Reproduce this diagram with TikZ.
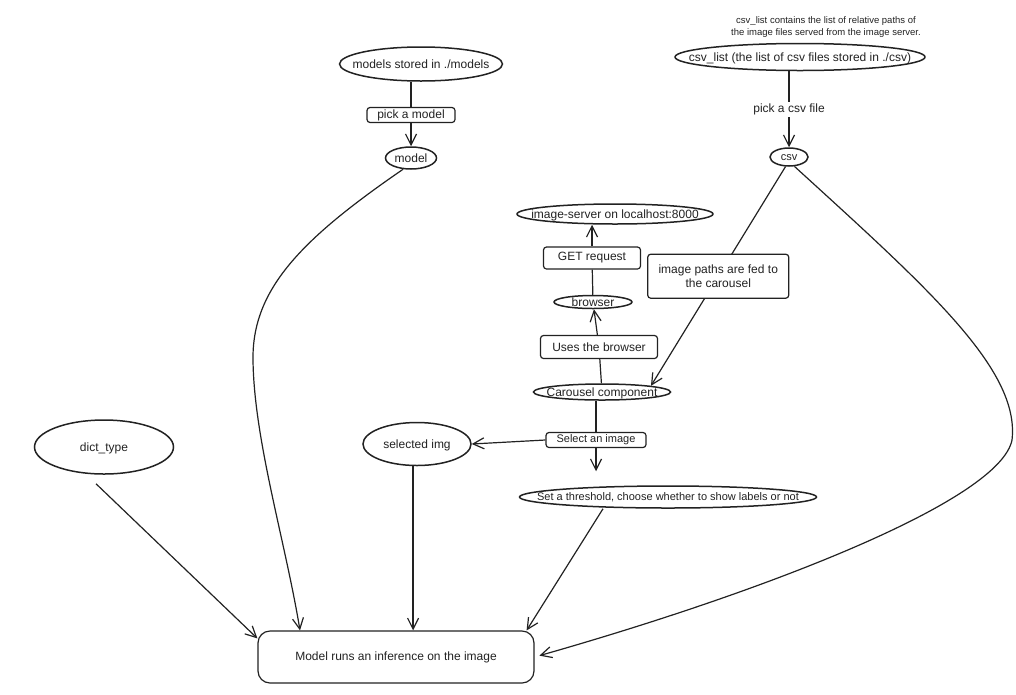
\documentclass[tikz,border=0pt]{standalone}
\usepackage{fontspec}
\setmainfont{Liberation Sans}
\usetikzlibrary{arrows.meta, shapes.geometric}
\definecolor{ink}{HTML}{222222}
% text that does not widen the ellipse
\newcommand{\tight}[1]{\raisebox{-.35em}[0pt][0pt]{\makebox[0pt]{#1}}}

\begin{document}
\begin{tikzpicture}[x=1pt, y=-1pt, color=ink, line width=1.2pt,
  font=\fontsize{12}{14}\selectfont, >={Straight Barb[length=11pt,width=11pt]},
  oval/.style={ellipse, draw, line width=1.5pt, inner sep=0pt},
  tag/.style={draw, rounded corners=3pt, line width=1.2pt, inner sep=0pt},
  small/.style={font=\fontsize{11}{13}\selectfont}]
  \useasboundingbox (0,0) rectangle (1016,694);
  % Modely
  \node[oval, minimum width=163pt, minimum height=34pt] (models) at (421,64) {\tight{models stored in ./models}};
  \node[tag, minimum width=88pt, minimum height=15pt] (pickmodel) at (411,115) {pick a model};
  \node[oval, minimum width=51pt, minimum height=22pt] (model) at (411,158) {\tight{model}};
  % CSV
  \node[align=center, font=\fontsize{9.5}{12}\selectfont] (note) at (826,27)
    {csv\_list contains the list of relative paths of\\ the image files served from the image server.};
  \node[oval, minimum width=250pt, minimum height=27pt] (csvlist) at (800,57) {\tight{csv\_list (the list of csv files stored in ./csv)}};
  \node[oval, small, minimum width=38pt, minimum height=18pt] (csv) at (789,157) {\tight{csv}};
  % Prohlizec
  \node[oval, minimum width=196pt, minimum height=20pt] (imgserver) at (615,214) {\tight{image-server on localhost:8000}};
  \node[tag, minimum width=97pt, minimum height=22pt] (getreq) at (592,258) {GET request};
  \node[oval, minimum width=78pt, minimum height=13pt] (browser) at (593,302) {\tight{browser}};
  \node[tag, minimum width=117pt, minimum height=23pt] (uses) at (599,347) {Uses the browser};
  \node[oval, minimum width=137pt, minimum height=16pt] (carousel) at (602,392) {\tight{Carousel component}};
  \node[tag, small, minimum width=100pt, minimum height=15pt] (select) at (596,440) {Select an image};
  \node[oval, small, minimum width=297pt, minimum height=22pt] (thresh) at (668,497) {\tight{Set a threshold, choose whether to show labels or not}};
  % Vstupy
  \node[oval, minimum width=108pt, minimum height=43pt] (selimg) at (417,444) {\tight{selected img}};
  \node[oval, minimum width=139pt, minimum height=54pt] (dict) at (104,447) {\tight{dict\_type}};
  \node[tag, rounded corners=12pt, minimum width=276pt, minimum height=52pt] (infer) at (396,657) {Model runs an inference on the image};

  % Hrany
  \draw (pickmodel.north |- models.south) -- (pickmodel.north);
  \draw[->] (pickmodel) -- (model);
  \draw[->] (model.235) .. controls (300,240) and (252,290) .. (253,360)
    .. controls (254,440) and (285,540) .. ([xshift=-96pt]infer.north);
  \draw[->] (csv.north |- csvlist.south) -- node[fill=white, inner sep=2pt] {pick a csv file} (csv);
  \draw[->] (csv.250) -- node[tag, fill=white, align=center, minimum width=141pt, minimum height=44pt] (feed)
    {image paths are fed to\\the carousel} (carousel.north east);
  \draw[->, shorten >=5pt] (csv.300) .. controls (930,290) and (1020,370) .. (1012,440)
    .. controls (1000,500) and (770,590) .. (infer.east);
  \draw (carousel) -- (uses);
  \draw[->] (uses) -- (browser);
  \draw (browser) -- (getreq);
  \draw[->] (getreq.north) -- (getreq.north |- imgserver.south);
  \draw (select.north |- carousel.south) -- (select.north);
  \draw[->, shorten >=14pt] (select.south) -- (select.south |- thresh.north);
  \draw[->] (select.west) -- (selimg.east);
  \draw[->] (selimg.260) -- (selimg.260 |- infer.north);
  \draw[->] ([shift={(-8,9)}]dict.south) -- ([yshift=-8pt]infer.north west);
  \draw[->] ([xshift=-65pt]thresh.south) -- ([xshift=-8pt]infer.north east);
\end{tikzpicture}
\end{document}
